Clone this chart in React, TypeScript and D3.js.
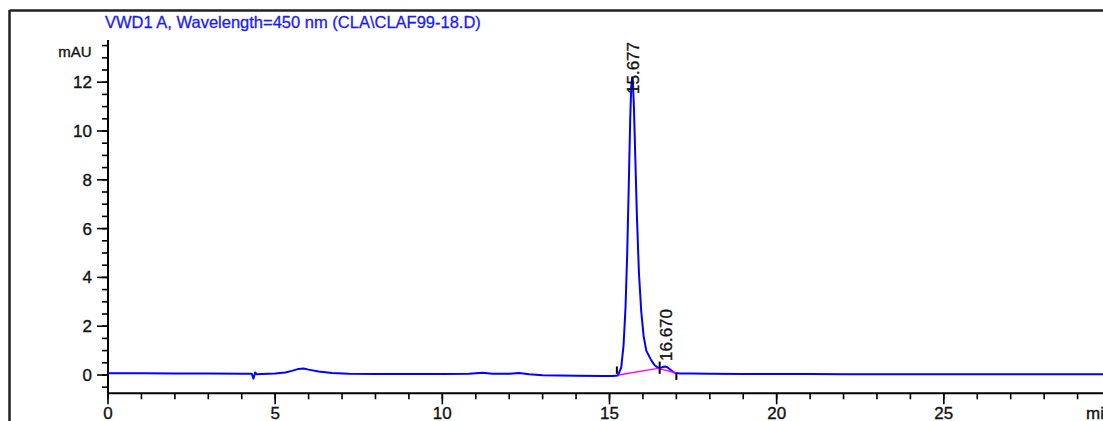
import React from "react";
import * as d3 from "d3";

const title = "VWD1 A, Wavelength=450 nm (CLA\\CLAF99-18.D)";
const yUnit = "mAU";
const xUnit = "min";

const xMajorTicks = [0, 5, 10, 15, 20, 25, 30];
const yMajorTicks = [0, 2, 4, 6, 8, 10, 12];

// retention time (min) and absorbance (mAU)
const times = [
  0, 1, 2, 3, 4, 4.3, 4.35, 4.4, 4.45, 4.6, 5.0, 5.3, 5.5, 5.7, 5.85, 6.0, 6.3, 6.7, 7.2, 8, 9, 10,
  10.8, 11.2, 11.5, 12, 12.3, 12.6, 13, 14, 14.8, 15.1, 15.25, 15.35, 15.42, 15.48, 15.53, 15.58, 15.62,
  15.65, 15.677, 15.7, 15.73, 15.77, 15.82, 15.88, 15.95, 16.02, 16.1, 16.25, 16.35, 16.45, 16.55,
  16.62, 16.67, 16.75, 16.85, 16.95, 17.1, 17.5, 18, 19, 20, 21, 22, 23, 24, 25, 26, 27, 28, 29, 30,
];
const values = [
  0.07, 0.07, 0.06, 0.06, 0.05, 0.05, -0.15, 0.1, 0.03, 0.04, 0.06, 0.1, 0.17, 0.25, 0.27, 0.22, 0.14,
  0.08, 0.05, 0.04, 0.04, 0.04, 0.05, 0.09, 0.05, 0.05, 0.08, 0.03, -0.01, -0.03, -0.04, -0.04, -0.02,
  0.3, 1.2, 2.8, 5.0, 8.0, 10.5, 11.8, 12.2, 12.0, 11.0, 9.0, 6.5, 4.2, 2.6, 1.6, 1.0, 0.6, 0.4, 0.3,
  0.3, 0.34, 0.35, 0.3, 0.18, 0.09, 0.06, 0.06, 0.05, 0.04, 0.04, 0.04, 0.03, 0.03, 0.03, 0.03, 0.03,
  0.03, 0.03, 0.03, 0.03,
];

// integration baseline (magenta)
const baseTimes = [15.27, 16.45, 17.0];
const baseValues = [0.0, 0.27, 0.08];

// peak labels
const peakTimes = [15.677, 16.67];
const peakLabels = ["15.677", "16.670"];

// integration event marks: [time, from mAU, to mAU]
const markTimes = [15.22, 16.5, 17.0];
const markFrom = [0.05, 0.05, -0.2];
const markTo = [0.35, 0.55, 0.08];

export default function App() {
  const W = 1103;
  const H = 421;
  const x = d3.scaleLinear().domain([0, 30]).range([108, 1111]);
  const y = d3.scaleLinear().domain([0, 12]).range([375, 82.2]);
  const yTop = 13.73;
  const yBot = -0.75;

  const pts = times.map((t, i) => [t, values[i]] as [number, number]);
  const line = d3
    .line<[number, number]>()
    .x((d) => x(d[0]))
    .y((d) => y(d[1]));
  const bpts = baseTimes.map((t, i) => [t, baseValues[i]] as [number, number]);

  const xMinor = d3.range(0, 31, 1);
  const yMinor = d3.range(-0.5, 13.6, 0.5);
  const font = "Liberation Sans, Arial, sans-serif";
  const ink = "#111";
  const bold = { stroke: ink, strokeWidth: 0.35 };

  return (
    <svg
      width={W}
      height={H}
      style={{ position: "absolute", left: 0, top: 0 }}
      fontFamily={font}
    >
      <rect x={0} y={0} width={W} height={H} fill="#fff" />
      {/* frame */}
      <line x1={9.5} y1={10.5} x2={W + 5} y2={10.5} stroke="#222" strokeWidth={2.5} />
      <line x1={9.5} y1={10} x2={9.5} y2={H + 5} stroke="#222" strokeWidth={2.5} />

      <text x={105} y={28} fontSize={16.5} fill="#1a1aff" stroke="#1a1aff" strokeWidth={0.3}>
        {title}
      </text>

      {/* y axis */}
      <line x1={x(0)} y1={y(yTop)} x2={x(0)} y2={y(yBot)} stroke="#000" strokeWidth={2} />
      {yMinor.map((v) => (
        <line key={"ym" + v} x1={x(0) - 6} x2={x(0)} y1={y(v)} y2={y(v)} stroke="#000" strokeWidth={1.6} />
      ))}
      {yMajorTicks.map((v) => (
        <g key={"yM" + v}>
          <line x1={x(0) - 11} x2={x(0)} y1={y(v)} y2={y(v)} stroke="#000" strokeWidth={1.6} />
          <text x={92} y={y(v) + 6} fontSize={17} textAnchor="end" fill={ink} {...bold}>
            {v}
          </text>
        </g>
      ))}
      <text x={91.5} y={57} fontSize={15} textAnchor="end" fill={ink} {...bold}>
        {yUnit}
      </text>

      {/* x axis */}
      <line x1={x(0)} y1={y(yBot)} x2={W + 5} y2={y(yBot)} stroke="#000" strokeWidth={2} />
      {xMinor.map((v) => (
        <line key={"xm" + v} x1={x(v)} x2={x(v)} y1={y(yBot)} y2={y(yBot) + 6} stroke="#000" strokeWidth={1.6} />
      ))}
      {xMajorTicks.map((v) => (
        <g key={"xM" + v}>
          <line x1={x(v)} x2={x(v)} y1={y(yBot)} y2={y(yBot) + 11} stroke="#000" strokeWidth={1.6} />
          {v < 30 && (
            <text x={x(v)} y={419} fontSize={17} textAnchor="middle" fill={ink} {...bold}>
              {v}
            </text>
          )}
        </g>
      ))}
      <text x={1086} y={419} fontSize={17} textAnchor="start" fill={ink} {...bold}>
        {xUnit}
      </text>

      {/* trace */}
      <path d={line(pts) || ""} fill="none" stroke="#0000ff" strokeWidth={2} strokeLinejoin="round" />
      <path d={line(bpts) || ""} fill="none" stroke="#ff00ff" strokeWidth={1.4} />

      {markTimes.map((t, i) => (
        <line
          key={"mk" + i}
          x1={x(t)}
          x2={x(t)}
          y1={y(markFrom[i])}
          y2={y(markTo[i])}
          stroke="#000"
          strokeWidth={2}
        />
      ))}

      {peakTimes.map((t, i) => (
        <text
          key={"pl" + i}
          transform={`translate(${x(t) + 6.5},${i === 0 ? 94 : 361}) rotate(-90)`}
          fontSize={17}
          fill={ink}
          {...bold}
        >
          {peakLabels[i]}
        </text>
      ))}
    </svg>
  );
}
